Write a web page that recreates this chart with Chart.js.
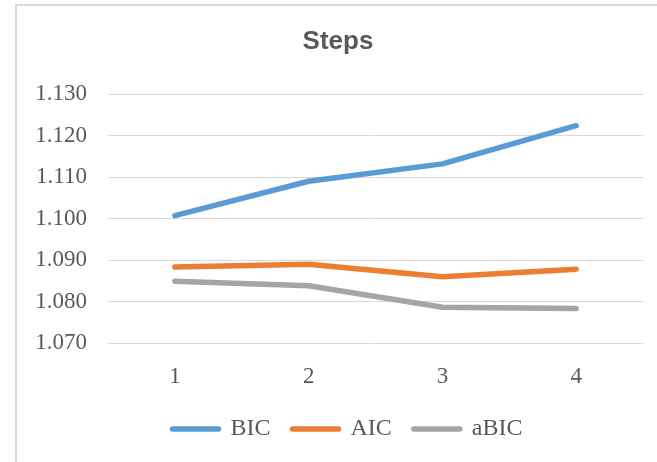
<!DOCTYPE html>
<html>
<head>
<meta charset="utf-8">
<script src="https://cdn.jsdelivr.net/npm/chart.js@4.4.1/dist/chart.umd.min.js"></script>
<style>
  html, body { margin: 0; padding: 0; background: #fff; }
  #frame { position: absolute; left: 15px; top: 4px; width: 700px; height: 500px; border: 2px solid #d9d9d9; }
  #wrap { position: absolute; left: 0; top: 0; width: 657px; height: 462px; }
</style>
</head>
<body>
<div id="frame"></div>
<div id="wrap"><canvas id="stepsChart" width="657" height="462"></canvas></div>
<script>
// 資料
const steps = ['1', '2', '3', '4'];
const bic = [1.1007, 1.1090, 1.1132, 1.1224];
const aic = [1.0883, 1.0890, 1.0860, 1.0878];
const abic = [1.0849, 1.0838, 1.0786, 1.0783];
const yMin = 1.07, yMax = 1.13, yStep = 0.01;

const textGray = '#595959';
const serif = '"Liberation Serif", "Times New Roman", serif';

function series(label, values, color) {
  return {
    label: label,
    data: values,
    borderColor: color,
    backgroundColor: color,
    borderWidth: 5.5,
    borderCapStyle: 'round',
    borderJoinStyle: 'round',
    pointRadius: 0,
    pointHoverRadius: 0,
    tension: 0,
    fill: false
  };
}

// 標題與圖例置中位置微調 (Excel 版面)
const shiftBlocks = {
  id: 'shiftBlocks',
  afterLayout: function(chart) {
    chart.scales.y.left = 0;
    if (chart.titleBlock) { chart.titleBlock.left = 33; chart.titleBlock.right = 643; }
    if (chart.legend) { chart.legend.left = 52; chart.legend.right = 643; }
  }
};

document.addEventListener('DOMContentLoaded', function() {
  const ctx = document.getElementById('stepsChart').getContext('2d');

  new Chart(ctx, {
    type: 'line',
    data: {
      labels: steps,
      datasets: [
        series('BIC', bic, '#5B9BD5'),
        series('AIC', aic, '#ED7D31'),
        series('aBIC', abic, '#A5A5A5')
      ]
    },
    options: {
      responsive: false,
      animation: false,
      layout: { padding: { left: 0, right: 14, top: 0, bottom: 11 } },
      scales: {
        x: {
          offset: true,
          grid: { display: false },
          border: { display: false },
          ticks: {
            color: textGray,
            padding: 12,
            font: { family: serif, size: 23 }
          },
          afterFit: function(scale) { scale.height = 52; }
        },
        y: {
          min: yMin,
          max: yMax,
          grid: { color: '#d9d9d9', lineWidth: 1, drawTicks: false },
          border: { display: false },
          ticks: {
            stepSize: yStep,
            color: textGray,
            padding: 21,
            font: { family: serif, size: 23 },
            callback: function(value) { return value.toFixed(3); }
          },
          afterFit: function(scale) { scale.width = 108; }
        }
      },
      plugins: {
        title: {
          display: true,
          text: 'Steps',
          color: textGray,
          font: { family: '"Liberation Sans", Arial, sans-serif', size: 26, weight: 'bold' },
          padding: { top: 26, bottom: 37 }
        },
        legend: {
          position: 'bottom',
          labels: {
            color: textGray,
            boxWidth: 46,
            boxHeight: 0,
            padding: 22,
            font: { family: serif, size: 24 }
          }
        },
        tooltip: { enabled: false }
      }
    },
    plugins: [shiftBlocks]
  });
});
</script>
</body>
</html>
